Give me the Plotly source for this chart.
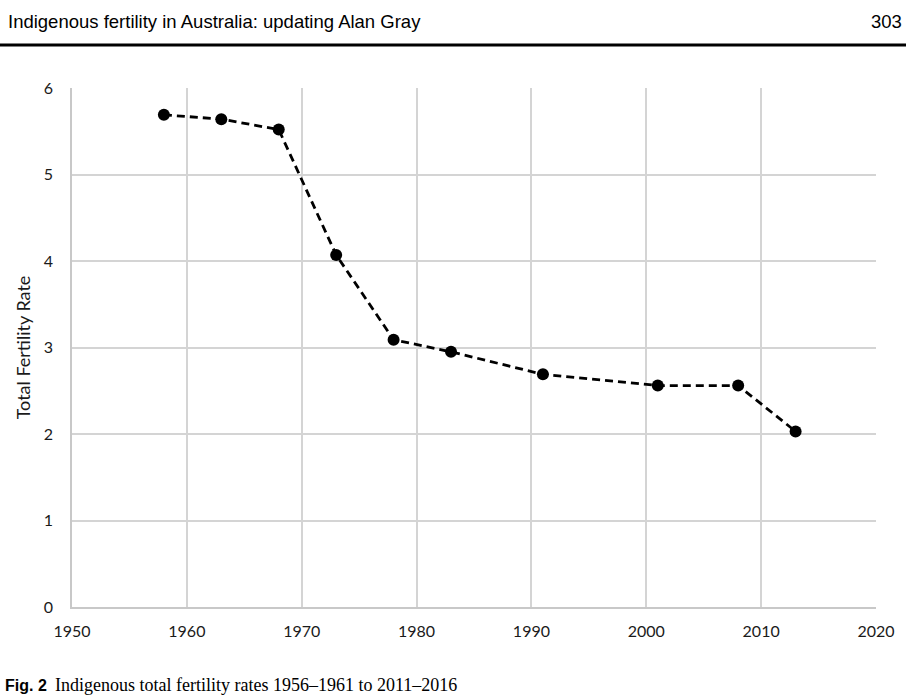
import plotly.graph_objects as go

years = [1958, 1963, 1968, 1973, 1978, 1983, 1991, 2001, 2008, 2013]
tfr = [5.69, 5.64, 5.52, 4.07, 3.09, 2.95, 2.69, 2.56, 2.56, 2.03]
x_ticks = [1950, 1960, 1970, 1980, 1990, 2000, 2010, 2020]
y_ticks = [0, 1, 2, 3, 4, 5, 6]

W, H = 906, 700
L, R, T, B = 72, 30, 88, 93
pw, ph = W - L - R, H - T - B

def px(xp):
    return (xp - L) / pw

def py(yp):
    return (H - B - yp) / ph

fig = go.Figure()
fig.add_trace(go.Scatter(
    x=years, y=tfr, mode="lines+markers",
    line=dict(color="black", width=2.8, dash="8px,5px"),
    marker=dict(color="black", size=12),
    showlegend=False,
))

grid = "#d4d4d4"
tickfont = dict(size=16, family="Lato, Open Sans, sans-serif", color="#1a1a1a")
fig.update_layout(
    width=W, height=H,
    margin=dict(l=L, r=R, t=T, b=B),
    paper_bgcolor="white", plot_bgcolor="white",
    font=dict(family="Lato, Open Sans, sans-serif", color="#1a1a1a"),
    xaxis=dict(range=[1950, 2020], tickvals=x_ticks, showgrid=True, gridcolor=grid,
               gridwidth=1.5, zeroline=False, showline=True, linecolor="#c8c8c8", linewidth=1.5,
               ticks="outside", ticklen=9, tickcolor="rgba(0,0,0,0)", tickfont=tickfont),
    yaxis=dict(range=[0, 6], tickvals=y_ticks, showgrid=True, gridcolor=grid,
               gridwidth=1.5, zeroline=False, showline=True, linecolor="#c8c8c8", linewidth=1.5,
               ticks="outside", ticklen=14, tickcolor="rgba(0,0,0,0)", tickfont=tickfont,
               title=dict(text="Total Fertility Rate",
                          font=dict(size=18, family="Lato, Open Sans, sans-serif", color="#1a1a1a"),
                          standoff=8)),
)

fig.add_annotation(xref="paper", yref="paper", x=px(6), y=py(22), xanchor="left", yanchor="middle",
                   text="Indigenous fertility in Australia: updating Alan Gray", showarrow=False,
                   font=dict(size=18.5, family="Liberation Sans Narrow, sans-serif", color="black"))
fig.add_annotation(xref="paper", yref="paper", x=px(904), y=py(22), xanchor="right", yanchor="middle",
                   text="303", showarrow=False,
                   font=dict(size=18.5, family="Liberation Sans Narrow, sans-serif", color="black"))
fig.add_shape(type="line", xref="paper", yref="paper", x0=px(0), x1=px(906), y0=py(45), y1=py(45),
              line=dict(color="black", width=3))
fig.add_annotation(xref="paper", yref="paper", x=px(3), y=py(685), xanchor="left", yanchor="middle",
                   text="<b>Fig. 2</b>", showarrow=False,
                   font=dict(size=16, family="Liberation Sans Narrow, sans-serif", color="black"))
fig.add_annotation(xref="paper", yref="paper", x=px(53), y=py(685), xanchor="left", yanchor="middle",
                   text="Indigenous total fertility rates 1956–1961 to 2011–2016", showarrow=False,
                   font=dict(size=18, family="Liberation Serif, serif", color="black"))

fig.write_html("out.html", config={"displayModeBar": False},
               post_script="document.body.style.margin='0';document.body.style.overflow='hidden';")
